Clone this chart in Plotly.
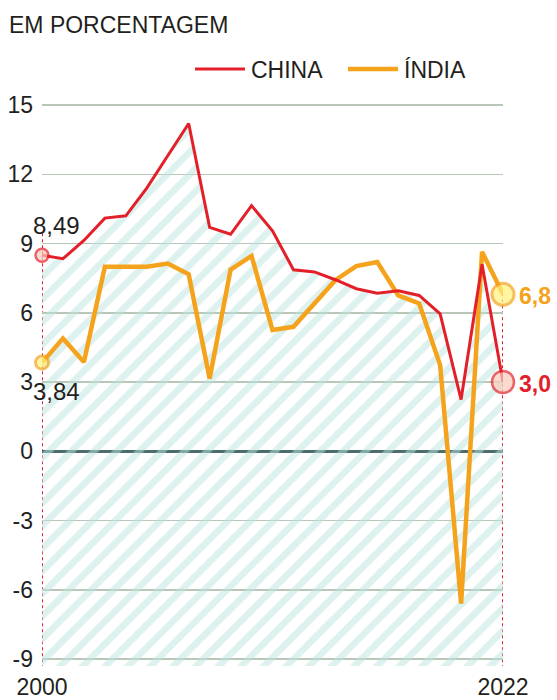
import plotly.graph_objects as go

# ---- data ----
years = list(range(2000, 2023))
china = [8.49, 8.34, 9.13, 10.1, 10.2, 11.4, 12.8, 14.2, 9.7, 9.4, 10.64, 9.55,
         7.86, 7.77, 7.43, 7.04, 6.85, 6.95, 6.75, 5.95, 2.24, 8.1, 3.0]
india = [3.84, 4.89, 3.87, 7.99, 7.99, 7.99, 8.13, 7.67, 3.15, 7.87, 8.46, 5.25,
         5.39, 6.39, 7.41, 8.02, 8.2, 6.75, 6.4, 3.73, -6.6, 8.64, 6.8]
y_ticks = [-9, -6, -3, 0, 3, 6, 9, 12, 15]
y_tick_labels = ["-9", "-6", "-3", "0", "3", "6", "9", "12", "15"]
x_ticks = [2000, 2022]
x_tick_labels = ["2000", "2022"]
series_names = ["CHINA", "ÍNDIA"]
start_labels = ["8,49", "3,84"]
end_labels = ["3,0", "6,8"]
title_text = "EM PORCENTAGEM"

# ---- style ----
RED = "#e3202a"
ORANGE = "#f5a31c"
TEXT = "#231f20"
FONT = "Liberation Sans, Arial, sans-serif"
W, H = 557, 700
ML, MR, MT, MB = 42, 54, 96, 34
YMIN, YMAX = -9.303, 15.39
PW, PH = W - ML - MR, H - MT - MB


def px_x(px):
    return (px - ML) / PW


def px_y(py):
    return (H - MB - py) / PH


fig = go.Figure()

# hatched area under China line
fig.add_trace(go.Scatter(
    x=years + years[::-1], y=china + [YMIN] * len(years),
    fill="toself", mode="none", fillcolor="rgba(0,0,0,0)",
    fillpattern=dict(shape="/", fgcolor="#bbe3df", size=16, solidity=0.42),
    showlegend=False, hoverinfo="skip"))

fig.add_trace(go.Scatter(x=years, y=india, mode="lines", name=series_names[1],
                         line=dict(color=ORANGE, width=4.5), showlegend=False))
fig.add_trace(go.Scatter(x=years, y=china, mode="lines", name=series_names[0],
                         line=dict(color=RED, width=3), showlegend=False))

# endpoint markers
fig.add_trace(go.Scatter(
    x=[years[0], years[-1]], y=[india[0], india[-1]], mode="markers",
    marker=dict(size=[13, 22], color="#fff27d", line=dict(color=ORANGE, width=3)),
    cliponaxis=False, showlegend=False))
fig.add_trace(go.Scatter(
    x=[years[0], years[-1]], y=[china[0], china[-1]], mode="markers",
    marker=dict(size=[13, 22], color="#f9cbbb", line=dict(color=RED, width=2.5)),
    cliponaxis=False, showlegend=False))

shapes = [
    dict(type="line", xref="x", yref="y", x0=years[0], x1=years[0], y0=YMIN - 0.1, y1=9.45,
         line=dict(color=RED, width=2, dash="dot"), layer="below"),
    dict(type="line", xref="x", yref="y", x0=years[-1], x1=years[-1], y0=YMIN - 0.1, y1=india[-1],
         line=dict(color=RED, width=2, dash="dot"), layer="below"),
    # legend samples
    dict(type="line", xref="paper", yref="paper", x0=px_x(195), x1=px_x(245),
         y0=px_y(69), y1=px_y(69), line=dict(color=RED, width=3)),
    dict(type="line", xref="paper", yref="paper", x0=px_x(348), x1=px_x(398),
         y0=px_y(69), y1=px_y(69), line=dict(color=ORANGE, width=4.5)),
]

annotations = [
    dict(text=title_text, xref="paper", yref="paper", x=px_x(7), y=px_y(25),
         xanchor="left", yanchor="middle", showarrow=False,
         font=dict(size=23, color=TEXT, family=FONT)),
    dict(text=series_names[0], xref="paper", yref="paper", x=px_x(249), y=px_y(70),
         xanchor="left", yanchor="middle", showarrow=False,
         font=dict(size=23, color=TEXT, family=FONT)),
    dict(text=series_names[1], xref="paper", yref="paper", x=px_x(402), y=px_y(70),
         xanchor="left", yanchor="middle", showarrow=False,
         font=dict(size=23, color=TEXT, family=FONT)),
    dict(text=start_labels[0], x=years[0], y=china[0], xanchor="left", yanchor="middle",
         xshift=-11, yshift=30, showarrow=False, font=dict(size=24, color=TEXT, family=FONT)),
    dict(text=start_labels[1], x=years[0], y=india[0], xanchor="left", yanchor="middle",
         xshift=-11, yshift=-29, showarrow=False, font=dict(size=24, color=TEXT, family=FONT)),
    dict(text="<b>%s</b>" % end_labels[0], x=years[-1], y=china[-1], xanchor="left",
         yanchor="middle", xshift=14, yshift=-2, showarrow=False,
         font=dict(size=23, color=RED, family=FONT)),
    dict(text="<b>%s</b>" % end_labels[1], x=years[-1], y=india[-1], xanchor="left",
         yanchor="middle", xshift=14, yshift=-2, showarrow=False,
         font=dict(size=23, color=ORANGE, family=FONT)),
]

fig.update_layout(
    width=W, height=H, margin=dict(l=ML, r=MR, t=MT, b=MB, pad=0, autoexpand=False),
    paper_bgcolor="white", plot_bgcolor="white",
    font=dict(family=FONT, size=23, color=TEXT),
    showlegend=False, shapes=shapes, annotations=annotations,
    xaxis=dict(range=[years[0], years[-1]], tickvals=x_ticks, ticktext=x_tick_labels,
               showgrid=False, zeroline=False, showline=False, ticks="", automargin=False,
               tickfont=dict(size=23), ticklabelstandoff=5, fixedrange=True),
    yaxis=dict(range=[YMIN, YMAX], tickvals=y_ticks, ticktext=y_tick_labels,
               showgrid=True, gridcolor="#b9c7b9", gridwidth=1.5,
               zeroline=True, zerolinecolor="#4b6d6b", zerolinewidth=3, automargin=False,
               showline=False, ticks="", ticklabelstandoff=8, fixedrange=True),
)

fig.write_html(
    "out.html",
    config={"displayModeBar": False, "staticPlot": True},
    post_script="document.body.style.margin='0';document.body.style.overflow='hidden';",
)
